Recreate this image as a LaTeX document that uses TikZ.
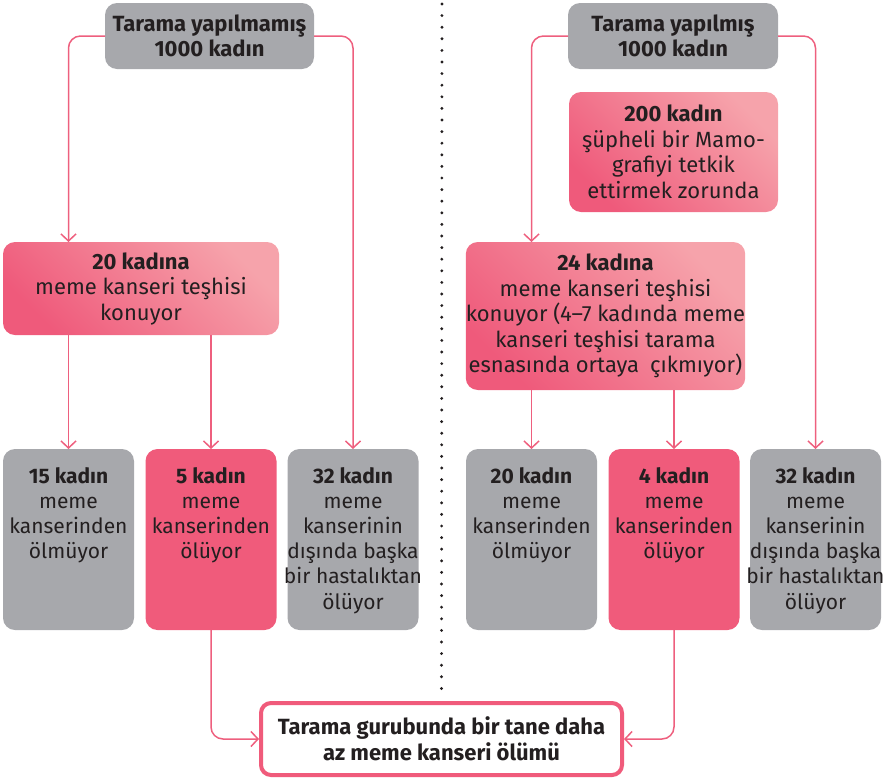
\documentclass[tikz,border=0pt]{standalone}
\usepackage{fontspec}
\setmainfont{Fira Sans}
\usetikzlibrary{arrows.meta}
\definecolor{boxgray}{HTML}{A7A8AC}
\definecolor{linepink}{HTML}{EE5F7E}
\definecolor{hotpink}{HTML}{F05B7B}
\definecolor{gradDark}{HTML}{EF5A7B}
\definecolor{gradLight}{HTML}{F6A3AB}
\definecolor{ink}{HTML}{231F20}
\newcommand\tbox[3]{\makebox[#1]{\parbox[c][#2][t]{150pt}{\centering\rule{0pt}{34pt}#3}}}
\begin{document}
\begin{tikzpicture}[x=1pt,y=-1pt,
  base/.style={inner sep=0pt, outer sep=0pt, rounded corners=12pt, text=ink,
    font=\fontsize{22}{25.5}\selectfont, align=center},
  graybox/.style={base, fill=boxgray},
  gradbox/.style={base, top color=gradLight, bottom color=gradDark, shading angle=-45},
  hotbox/.style={base, fill=hotpink},
  finbox/.style={base, draw=hotpink, line width=4pt, fill=white, rounded corners=10pt},
  lowbox/.style={minimum width=131pt, minimum height=181pt,
    font=\fontsize{21}{25.2}\selectfont},
  conn/.style={draw=linepink, line width=1.5pt, rounded corners=12pt,
    -{Straight Barb[length=7pt,width=15pt]}},
  dots/.style={draw=ink, line width=3.2pt, line cap=round, dash pattern=on 0pt off 11.6pt}
]
\useasboundingbox (0,0) rectangle (886,782);

% top boxes
\node[graybox, minimum width=209pt, minimum height=66pt] (t1) at (209.5,36)
  {\textbf{Tarama yapılmamış}\\\textbf{1000 kadın}};
\node[graybox, minimum width=210pt, minimum height=66pt] (t2) at (673,36)
  {\textbf{Tarama yapılmış}\\\textbf{1000 kadın}};
\node[gradbox, minimum width=209pt, minimum height=120pt] (m200) at (673.5,152)
  {\textbf{200 kadın}\\şüpheli bir Mamo-\\grafiyi tetkik\\ettirmek zorunda};

% diagnosis boxes
\node[gradbox, minimum width=276pt, minimum height=93pt] (p1) at (141,288.5)
  {\textbf{20 kadına}\\meme kanseri teşhisi\\konuyor};
\node[gradbox, minimum width=273pt, minimum height=148pt] (p2) at (605.5,316)
  {\textbf{24 kadına}\\meme kanseri teşhisi\\konuyor (4–7 kadında meme\\kanseri teşhisi tarama\\esnasında ortaya\enspace çıkmıyor)};

% outcome boxes
\node[graybox, lowbox] (b1) at (68.5,539.5)
  {\tbox{127pt}{181pt}{\textbf{15 kadın}\\meme\\kanserinden\\ölmüyor}};
\node[hotbox, lowbox] (b2) at (211,539.5)
  {\tbox{127pt}{181pt}{\textbf{5 kadın}\\meme\\kanserinden\\ölüyor}};
\node[graybox, lowbox] (b3) at (353,539.5)
  {\tbox{127pt}{181pt}{\textbf{32 kadın}\\meme\\kanserinin\\dışında başka\\bir hastalıktan\\ölüyor}};
\node[graybox, lowbox] (b4) at (531.5,539.5)
  {\tbox{127pt}{181pt}{\textbf{20 kadın}\\meme\\kanserinden\\ölmüyor}};
\node[hotbox, lowbox] (b5) at (674,539.5)
  {\tbox{127pt}{181pt}{\textbf{4 kadın}\\meme\\kanserinden\\ölüyor}};
\node[graybox, lowbox] (b6) at (815.5,539.5)
  {\tbox{127pt}{181pt}{\textbf{32 kadın}\\meme\\kanserinin\\dışında başka\\bir hastalıktan\\ölüyor}};

% dotted divider and final box
\coordinate (dtop) at (442,4);
\node[finbox, minimum width=361pt, minimum height=72pt] (fin) at (441.5,739)
  {\textbf{Tarama gurubunda bir tane daha}\\\textbf{az meme kanseri ölümü}};
\draw[dots] (dtop) -- ([yshift=8pt]fin.north);

% connectors
\draw[conn] (t1.west) -| (p1.north -| b1.north);
\draw[conn] (t1.east) -| (b3.north);
\draw[conn] (t2.west) -| (p2.north -| b4.north);
\draw[conn] (t2.east) -| (b6.north);
\draw[conn] (p1.south -| b1.north) -- (b1.north);
\draw[conn] (p1.south -| b2.north) -- (b2.north);
\draw[conn] (p2.south -| b4.north) -- (b4.north);
\draw[conn] (p2.south -| b5.north) -- (b5.north);
\draw[conn] (b2.south) |- ([xshift=-2pt]fin.west);
\draw[conn] (b5.south) |- ([xshift=2pt]fin.east);
\end{tikzpicture}
\end{document}
